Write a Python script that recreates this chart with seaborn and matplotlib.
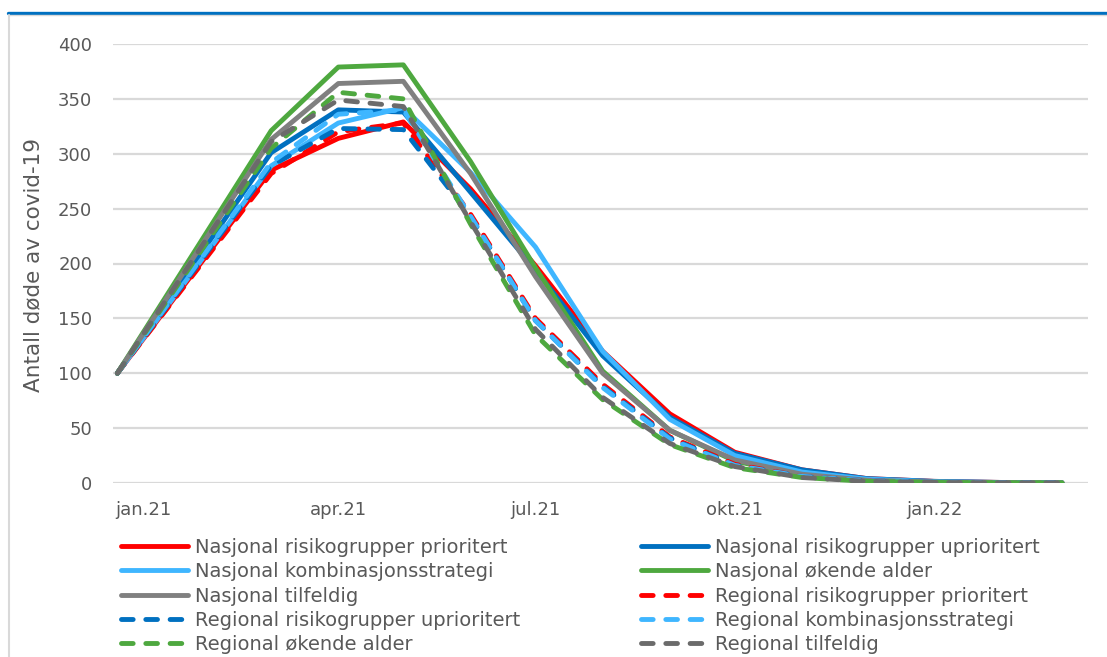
import numpy as np
import pandas as pd
import matplotlib
matplotlib.use("Agg")
import matplotlib.pyplot as plt
import matplotlib.dates as mdates
from matplotlib.lines import Line2D
import seaborn as sns

# ---------------- data ----------------
dates = ["2020-12-20", "2021-03-01", "2021-04-01", "2021-05-01", "2021-06-01",
         "2021-07-01", "2021-08-01", "2021-09-01", "2021-10-01", "2021-11-01",
         "2021-12-01", "2022-01-01", "2022-02-01", "2022-03-01"]

nas_risiko_prio = [100, 285, 314, 329, 268, 198, 120, 63, 28, 12, 4, 1.5, 0.5, 0.2]
nas_risiko_uprio = [100, 301, 340, 338, 265, 194, 116, 60, 27, 12, 4, 1.5, 0.5, 0.2]
nas_kombinasjon = [100, 289, 328, 342, 283, 215, 120, 58, 25, 10, 3.5, 1.2, 0.4, 0.2]
nas_okende_alder = [100, 321, 379, 381, 293, 196, 102, 48, 20, 7, 2, 0.7, 0.2, 0.1]
nas_tilfeldig = [100, 313, 364, 366, 282, 188, 100, 48, 21, 8, 2.5, 0.8, 0.3, 0.1]
reg_risiko_prio = [100, 282, 320, 328, 245, 150, 90, 42, 17, 6, 2, 0.6, 0.2, 0.1]
reg_risiko_uprio = [100, 289, 323, 322, 243, 148, 88, 41, 16, 6, 2, 0.6, 0.2, 0.1]
reg_kombinasjon = [100, 292, 336, 340, 243, 148, 87, 40, 16, 6, 2, 0.6, 0.2, 0.1]
reg_okende_alder = [100, 305, 356, 350, 236, 135, 76, 35, 14, 5, 1.5, 0.5, 0.2, 0.1]
reg_tilfeldig = [100, 311, 349, 343, 238, 140, 78, 36, 15, 5, 1.5, 0.5, 0.2, 0.1]

series_names = ["Nasjonal risikogrupper prioritert", "Nasjonal risikogrupper uprioritert",
                "Nasjonal kombinasjonsstrategi", "Nasjonal økende alder",
                "Nasjonal tilfeldig", "Regional risikogrupper prioritert",
                "Regional risikogrupper uprioritert", "Regional kombinasjonsstrategi",
                "Regional økende alder", "Regional tilfeldig"]
series_values = [nas_risiko_prio, nas_risiko_uprio, nas_kombinasjon, nas_okende_alder,
                 nas_tilfeldig, reg_risiko_prio, reg_risiko_uprio, reg_kombinasjon,
                 reg_okende_alder, reg_tilfeldig]

tick_dates = ["2021-01-01", "2021-04-01", "2021-07-01", "2021-10-01", "2022-01-01"]
tick_labels = ["jan.21", "apr.21", "jul.21", "okt.21", "jan.22"]
y_ticks = [0, 50, 100, 150, 200, 250, 300, 350, 400]
y_label = "Antall døde av covid-19"

# ---------------- style ----------------
colors = ["#FF0000", "#0070C0", "#3FB6FF", "#4EA83F", "#808080",
          "#FF0000", "#0070C0", "#3FB6FF", "#4EA83F", "#6B6B6B"]
dashed = [False] * 5 + [True] * 5
LW = 3.5
DASH = (2.4, 2.6)
TXT = "#595959"

sns.set_theme(style="white")
plt.rcParams['font.family'] = ['DejaVu Sans']

W, H = 1107, 657
fig = plt.figure(figsize=(W / 100, H / 100), dpi=100)
ax = fig.add_axes([113 / W, (H - 483) / H, (1088 - 113) / W, (483 - 44) / H])

x = pd.to_datetime(dates)
for name, vals, col, ds in zip(series_names, series_values, colors, dashed):
    sns.lineplot(x=x, y=vals, color=col, linewidth=LW, ax=ax, legend=False)
    ln = ax.lines[-1]
    ln.set_solid_capstyle("round")
    ln.set_solid_joinstyle("round")
    if ds:
        ln.set_dashes(DASH)
        ln.set_dash_capstyle("round")

ax.set_ylim(0, 400)
ax.set_xlim(pd.Timestamp("2020-12-18"), pd.Timestamp("2022-03-13"))
ax.set_yticks(y_ticks)
ax.set_yticklabels([str(v) for v in y_ticks])
ax.set_xticks(pd.to_datetime(tick_dates))
ax.set_xticklabels(tick_labels)
ax.grid(False)
ax.yaxis.grid(True, color="#D9D9D9", linewidth=1.6)
ax.set_axisbelow(True)
for s in ax.spines.values():
    s.set_visible(False)
ax.tick_params(axis="both", length=0, labelsize=13, labelcolor=TXT)
ax.tick_params(axis="y", pad=15)
ax.tick_params(axis="x", pad=13)
ax.set_xlabel("")
ax.set_ylabel("")
fig.text(33 / W, 1 - 265 / H, y_label, rotation=90, ha="center", va="center",
         fontsize=15.5, color=TXT)

# legend (two columns, row-wise order)
handles = []
for col, ds in zip(colors, dashed):
    h = Line2D([], [], color=col, linewidth=LW, solid_capstyle="round")
    if ds:
        h.set_dashes(DASH)
        h.set_dash_capstyle("round")
    handles.append(h)

common = dict(loc="upper left", bbox_transform=fig.transFigure, frameon=False,
              fontsize=14, handlelength=3.45, handletextpad=0.36, labelspacing=0.27,
              borderpad=0, borderaxespad=0, labelcolor=TXT)
leg1 = ax.legend(handles[0::2], series_names[0::2],
                 bbox_to_anchor=(121 / W, 1 - 538 / H), **common)
ax.add_artist(leg1)
leg2 = ax.legend(handles[1::2], series_names[1::2],
                 bbox_to_anchor=(641 / W, 1 - 538 / H), **common)

# outer frame
fig.add_artist(Line2D([8 / W, 1], [1 - 12.5 / H, 1 - 12.5 / H], transform=fig.transFigure,
                      color="#0070C0", linewidth=2.4))
fig.add_artist(Line2D([8 / W, 1], [1 - 15 / H, 1 - 15 / H], transform=fig.transFigure,
                      color="#D9D9D9", linewidth=1.0))
fig.add_artist(Line2D([8.5 / W, 8.5 / W], [0, 1 - 15 / H], transform=fig.transFigure,
                      color="#D9D9D9", linewidth=1.5))

fig.savefig("out.png", dpi=100, facecolor="white")
